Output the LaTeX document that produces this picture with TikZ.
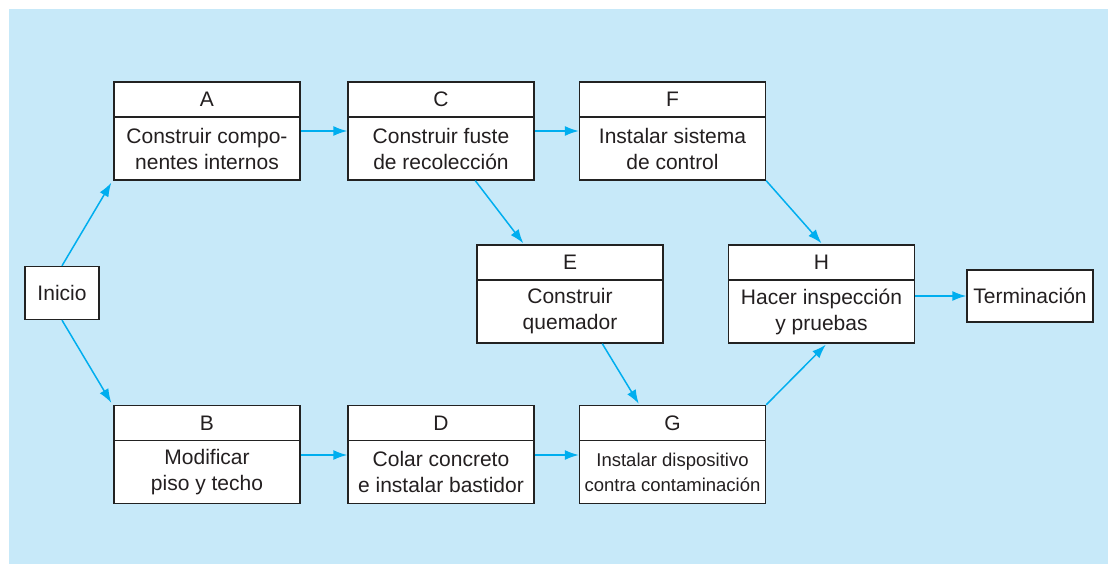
\documentclass[tikz,border=0pt]{standalone}
\usepackage{fontspec}
\setmainfont{Liberation Sans}
\usetikzlibrary{arrows.meta}
\definecolor{bgblue}{HTML}{C7E9F9}
\definecolor{arrcol}{HTML}{00AEEF}
\definecolor{edge}{HTML}{222222}
\definecolor{txt}{HTML}{231F20}
\tikzset{
  hdr/.style={draw=edge, fill=white, line width=1.4pt, minimum width=186pt, minimum height=35pt, inner sep=0pt, text=txt, font=\fontsize{21}{24}\selectfont},
  bdy/.style={draw=edge, fill=white, line width=1.4pt, minimum width=186pt, minimum height=63pt, inner sep=0pt, align=center, text=txt, font=\fontsize{21}{26}\selectfont},
  endbox/.style={draw=edge, fill=white, line width=1.4pt, inner sep=0pt, align=center, text=txt, font=\fontsize{21}{24}\selectfont},
  conn/.style={draw=arrcol, line width=1.5pt, -{Latex[length=14pt,width=10pt]}}
}
\begin{document}
\begin{tikzpicture}[x=1pt,y=-1pt]
\useasboundingbox (0,0) rectangle (1114,564);
\fill[bgblue] (9,9) rectangle (1108,564);
% A C F
\node[hdr] (Ah) at (207,99.5) {A};
\node[bdy] (Ab) at (207,148.5) {Construir compo-\\nentes internos};
\node[hdr] (Ch) at (441,99.5) {C};
\node[bdy] (Cb) at (441,148.5) {Construir fuste\\de recolección};
\node[hdr] (Fh) at (672.5,99.5) {F};
\node[bdy] (Fb) at (672.5,148.5) {Instalar sistema\\de control};
% E H
\node[hdr] (Eh) at (570,262.5) {E};
\node[bdy] (Eb) at (570,311.5) {Construir\\quemador};
\node[hdr] (Hh) at (821.5,262.5) {H};
\node[bdy] (Hb) at (821.5,311.5) {Hacer inspección\\y pruebas};
% B D G
\node[hdr] (Bh) at (207,423) {B};
\node[bdy] (Bb) at (207,472) {Modificar\\piso y techo};
\node[hdr] (Dh) at (441,423) {D};
\node[bdy] (Db) at (441,472) {Colar concreto\\e instalar bastidor};
\node[hdr] (Gh) at (672.5,423) {G};
\node[bdy, font=\fontsize{18.5}{25}\selectfont] (Gb) at (672.5,472) {Instalar dispositivo\\contra contaminación};
% start/end
\node[endbox, minimum width=74pt, minimum height=53pt] (Ini) at (62,293) {Inicio};
\node[endbox, minimum width=126pt, minimum height=52pt] (Ter) at (1030,296) {Terminación};
% connectors
\draw[conn] (Ini.north) -- ([xshift=-2pt,yshift=-2pt]Ab.south west);
\draw[conn] (Ini.south) -- ([xshift=-2pt,yshift=2pt]Bh.north west);
\draw[conn] ([yshift=17.5pt]Ab.east) -- ([yshift=17.5pt]Cb.west);
\draw[conn] ([yshift=17.5pt]Cb.east) -- ([yshift=17.5pt]Fb.west);
\draw[conn] ([yshift=17pt]Bb.east) -- ([yshift=17pt]Db.west);
\draw[conn] ([yshift=17pt]Db.east) -- ([yshift=17pt]Gb.west);
\draw[conn] ([xshift=128pt]Cb.south west) -- ([xshift=47pt,yshift=1pt]Eh.north west);
\draw[conn] (Fb.south east) -- ([yshift=1pt]Hh.north);
\draw[conn] ([xshift=126pt]Eb.south west) -- ([xshift=60pt,yshift=1pt]Gh.north west);
\draw[conn] (Gh.north east) -- ([xshift=98pt,yshift=-1pt]Hb.south west);
\draw[conn] (Hb.east |- Ter.west) -- (Ter.west);
\end{tikzpicture}
\end{document}
